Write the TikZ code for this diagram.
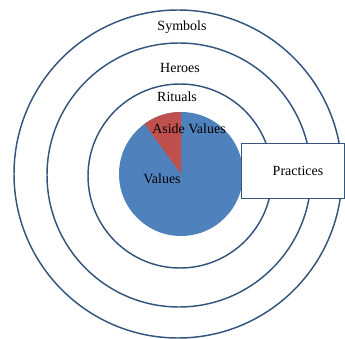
\documentclass[tikz,border=0pt]{standalone}
\usepackage{fontspec}
\setmainfont{Liberation Serif}
\usepackage{xcolor}
\usepackage{tikz}
\usetikzlibrary{calc}

\definecolor{ringblue}{HTML}{34557E}
\definecolor{pieblue}{HTML}{4F81BD}
\definecolor{piered}{HTML}{C0504D}

\begin{document}
\begin{tikzpicture}[x=0.75pt,y=-0.75pt,font=\fontsize{10.5}{12}\selectfont]
    \tikzstyle{ring}=[draw=ringblue,line width=1.1pt,circle,inner sep=0pt]
    \tikzstyle{lbl}=[inner sep=1pt,text badly centered]

    \useasboundingbox (0,0) rectangle (345,338);

    \node[ring,minimum size=328*0.75pt] (symbolsring) at (178,174) {};
    \node[ring,minimum size=264*0.75pt] (heroesring)  at (179,175) {};
    \node[ring,minimum size=184*0.75pt] (ritualsring) at (180,176) {};

    % pie of values
    \coordinate (piec) at (181,174);
    \fill[pieblue] (piec) circle[radius=62];
    \fill[piered] (piec) -- ++(0,-62) arc[start angle=-90,end angle=-126,radius=62] -- cycle;

    \node[draw=ringblue,line width=0.7pt,fill=white,minimum width=103*0.75pt,
      minimum height=55*0.75pt,inner sep=0pt] (practicesbox) at (292.5,170.5) {};

    \node[lbl] (symbols) at (182,27)  {Symbols};
    \node[lbl] (heroes)  at (180,68)  {Heroes};
    \node[lbl] (rituals) at (177,97)  {Rituals};
    \node[lbl] (aside)   at (189,129) {Aside Values};
    \node[lbl] (values)  at (162,179) {Values};
    \node[lbl] (practices) at (298,171) {Practices};
  \end{tikzpicture}
\end{document}
